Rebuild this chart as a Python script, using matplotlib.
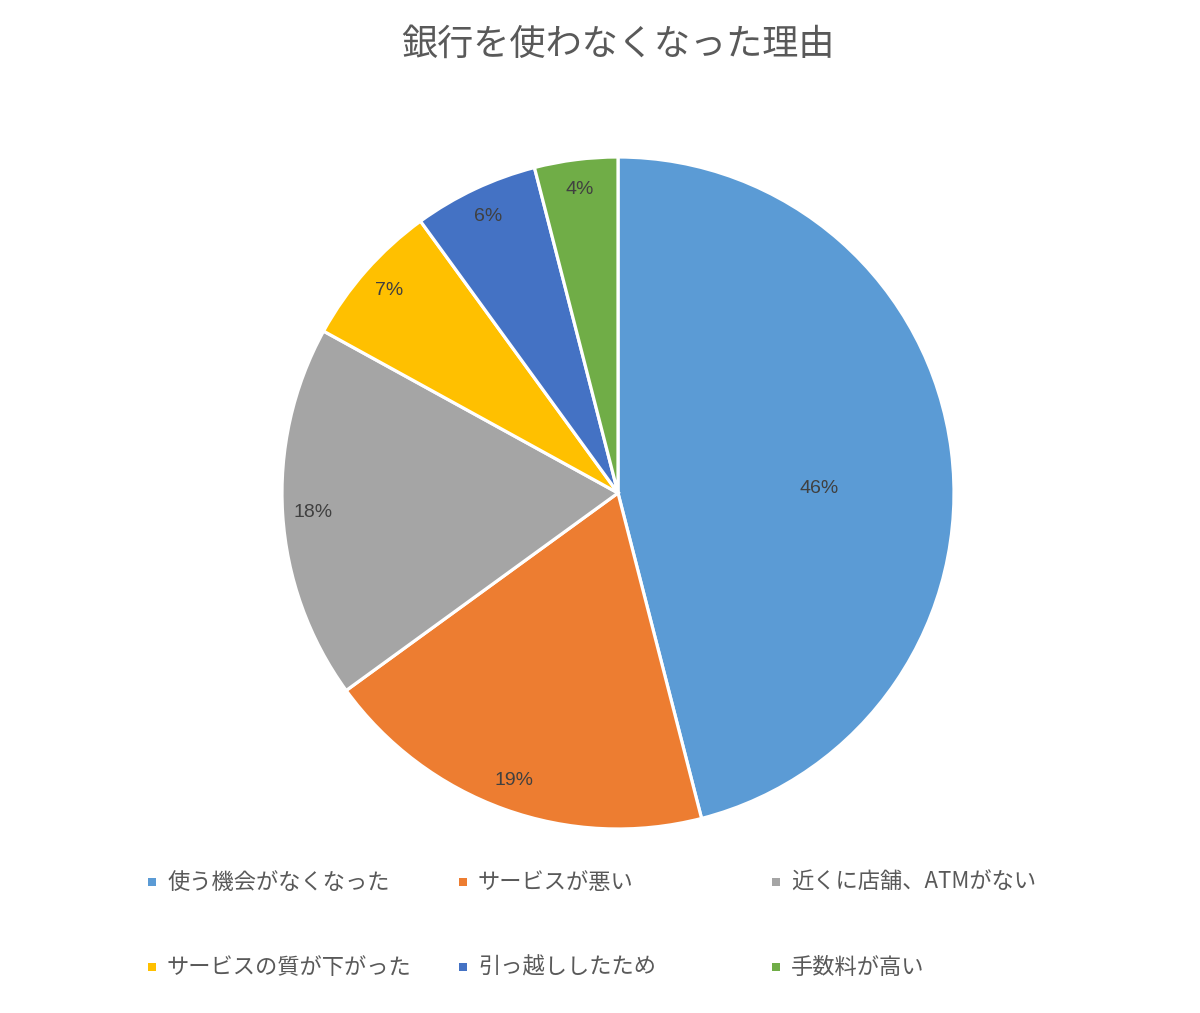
import numpy as np
import matplotlib
matplotlib.use("Agg")
import matplotlib.pyplot as plt
from matplotlib.patches import Rectangle

plt.rcParams["font.family"] = ["Noto Sans CJK JP", "DejaVu Sans"]

TITLE = "銀行を使わなくなった理由"
labels = ["使う機会がなくなった", "サービスが悪い", "近くに店舗、ATMがない",
          "サービスの質が下がった", "引っ越ししたため", "手数料が高い"]
shares = [46, 19, 18, 7, 6, 4]
colors = ["#5B9BD5", "#ED7D31", "#A5A5A5", "#FFC000", "#4472C4", "#70AD47"]
# Excel "best fit" label placement: radial distance and angular nudge (deg)
label_dist = [0.60, 0.91, 0.91, 0.91, 0.91, 0.91]
label_nudge = [-6.0, 0, 0, 0, 0, 0]

W, H = 1200, 1013
fig = plt.figure(figsize=(W / 100, H / 100), dpi=100)
fig.patch.set_facecolor("white")

# pie axes: centre (618, 493) px, radius ~336 px
cx, cy, r = 618, 493, 336
ax = fig.add_axes([(cx - r) / W, (H - cy - r) / H, 2 * r / W, 2 * r / H])
wedges, _ = ax.pie(shares, colors=colors, startangle=90, counterclock=False,
                   wedgeprops=dict(edgecolor="white", linewidth=2.3))
ax.set_xlim(-1.0, 1.0); ax.set_ylim(-1.0, 1.0)
ax.set_aspect("equal"); ax.axis("off")

for w, v, d, nd in zip(wedges, shares, label_dist, label_nudge):
    ang = np.deg2rad((w.theta1 + w.theta2) / 2 + nd)
    ax.text(d * np.cos(ang), d * np.sin(ang), f"{v}%", ha="center", va="center",
            fontsize=14, color="#404040", family=["Liberation Sans", "DejaVu Sans"])

fig.text(cx / W, 1 - 45 / H, TITLE, ha="center", va="center", fontsize=26, color="#595959")

# legend laid out as a 3-column grid, like Excel
col_x = [152, 463, 776]
row_y = [882, 967]
for i, (lab, c) in enumerate(zip(labels, colors)):
    x = col_x[i % 3]; y = row_y[i // 3]
    fig.add_artist(Rectangle(((x - 4) / W, 1 - (y + 4) / H), 8 / W, 8 / H,
                             transform=fig.transFigure, facecolor=c, edgecolor="none"))
    fig.text((x + 15) / W, 1 - y / H, lab, ha="left", va="center", fontsize=16, color="#595959")

fig.savefig("out.png", dpi=100, facecolor="white")
